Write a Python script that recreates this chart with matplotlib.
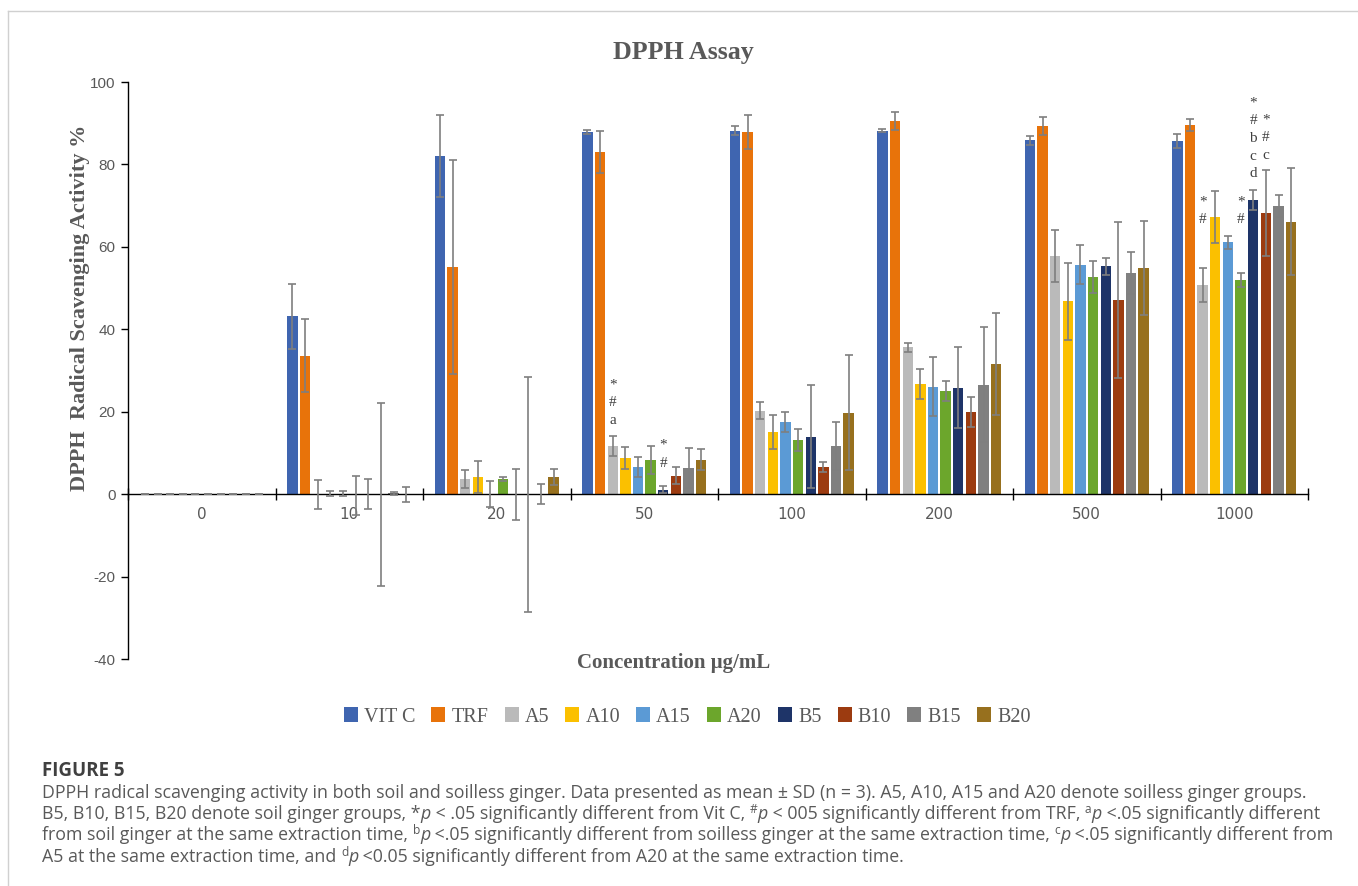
import numpy as np
import matplotlib
matplotlib.use("Agg")
import matplotlib.pyplot as plt
from matplotlib.patches import Patch
from matplotlib.lines import Line2D
from matplotlib.font_manager import FontProperties

plt.rcParams['axes.unicode_minus'] = False

# data (mean and SD per concentration)
concentrations = ['0', '10', '20', '50', '100', '200', '500', '1000']
series = ['VIT C', 'TRF', 'A5', 'A10', 'A15', 'A20', 'B5', 'B10', 'B15', 'B20']

vitc = [0, 43.2, 82.1, 87.9, 88.2, 88.2, 85.9, 85.7]
vitc_sd = [0, 7.9, 9.9, 0.45, 1.05, 0.4, 1.1, 1.6]
trf = [0, 33.6, 55.1, 83.0, 87.9, 90.5, 89.3, 89.6]
trf_sd = [0, 8.8, 26.0, 5.0, 4.1, 2.2, 2.1, 1.5]
a5 = [0, 0, 3.7, 11.7, 20.3, 35.6, 57.8, 50.7]
a5_sd = [0, 3.5, 2.1, 2.5, 2.1, 1.0, 6.3, 4.1]
a10 = [0, 0.1, 4.2, 8.8, 15.0, 26.8, 46.8, 67.2]
a10_sd = [0, 0.6, 3.8, 2.6, 4.1, 3.6, 9.3, 6.3]
a15 = [0, 0.1, 0, 6.6, 17.5, 26.1, 55.7, 61.1]
a15_sd = [0, 0.6, 3.2, 2.5, 2.4, 7.2, 4.7, 1.5]
a20 = [0, -0.3, 3.6, 8.4, 13.2, 25.0, 52.7, 52.0]
a20_sd = [0, 4.8, 0.5, 3.4, 2.7, 2.4, 3.9, 1.7]
b5 = [0, 0, -0.1, 1.1, 13.9, 25.8, 55.3, 71.4]
b5_sd = [0, 3.6, 6.1, 0.8, 12.5, 9.8, 2.1, 2.5]
b10 = [0, 0, 0, 4.5, 6.6, 19.9, 47.1, 68.3]
b10_sd = [0, 22.2, 28.5, 2.0, 1.2, 3.7, 18.9, 10.4]
b15 = [0, 0.2, 0, 6.3, 11.7, 26.6, 53.6, 69.9]
b15_sd = [0, 0.3, 2.5, 4.9, 5.9, 13.9, 5.1, 2.7]
b20 = [0, -0.1, 4.1, 8.4, 19.8, 31.6, 54.9, 66.1]
b20_sd = [0, 1.8, 1.9, 2.5, 13.9, 12.4, 11.5, 13.0]

means = [vitc, trf, a5, a10, a15, a20, b5, b10, b15, b20]
sds = [vitc_sd, trf_sd, a5_sd, a10_sd, a15_sd, a20_sd, b5_sd, b10_sd, b15_sd, b20_sd]

# significance marks: (concentration index, series index, top y, labels)
marks = [
    (3, 2, 26.5, ['*', '#', 'a']),
    (3, 6, 11.8, ['*', '#']),
    (7, 2, 70.9, ['*', '#']),
    (7, 5, 70.9, ['*', '#']),
    (7, 6, 94.9, ['*', '#', 'b', 'c', 'd']),
    (7, 7, 90.8, ['*', '#', 'c']),
]

colors = ['#3F65B0', '#E8730A', '#BABABA', '#FBC000', '#5B9AD5',
          '#6CA62C', '#1E3468', '#9C3B10', '#808080', '#97701E']
gray = '#595959'

W, H = 1358, 886
fig = plt.figure(figsize=(W / 100, H / 100), dpi=100)
ax = fig.add_axes([0.0943, 0.2562, 0.8689, 0.6512])

x = np.arange(len(concentrations)) + 0.5
slot = 0.0857
for k in range(len(series)):
    pos = x + (k - 4.5) * slot
    ax.bar(pos, means[k], width=slot * 0.82, color=colors[k], linewidth=0, zorder=2)
    ax.errorbar(pos, means[k], yerr=sds[k], fmt='none', ecolor='#7F7F7F',
                elinewidth=1.2, capsize=2.6, capthick=1.2, zorder=3)

for g, s, ytop, labels in marks:
    xp = x[g] + (s - 4.5) * slot
    for j, lab in enumerate(labels):
        ax.text(xp, ytop - j * 4.3, lab, ha='center', va='center',
                family='Liberation Serif', fontsize=11, color='#404040')

ax.set_xlim(0, 8)
ax.set_ylim(-40, 100)
ax.set_yticks(range(-40, 101, 20))
ax.set_xticks(x)
ax.set_xticklabels(concentrations)
ax.set_xticks(np.arange(0, 9), minor=True)
ax.tick_params(axis='x', which='major', length=0, pad=9, labelsize=11, labelcolor=gray)
ax.tick_params(axis='x', which='minor', direction='inout', length=8, width=1, color='black')
ax.tick_params(axis='y', length=5, width=1, color='black', labelsize=11, labelcolor=gray, pad=4)
for lab in ax.get_xticklabels() + ax.get_yticklabels():
    lab.set_family('Liberation Sans')

ax.spines['top'].set_visible(False)
ax.spines['right'].set_visible(False)
ax.spines['bottom'].set_position(('data', 0))
ax.spines['bottom'].set_zorder(2.5)
ax.spines['left'].set_linewidth(1)
ax.spines['bottom'].set_linewidth(1)

fig.text(683 / W, 1 - 52 / H, 'DPPH Assay', ha='center', va='center',
         family='Liberation Serif', fontweight='bold', fontsize=18.7, color=gray)
fig.text(80 / W, 1 - 308 / H, 'DPPH  Radical Scavenging Activity %', rotation=90,
         ha='center', va='center', family='Liberation Serif', fontweight='bold',
         fontsize=16, color=gray)
fig.text(674 / W, 1 - 663 / H, 'Concentration μg/mL', ha='center', va='center',
         family='Liberation Serif', fontweight='bold', fontsize=15, color=gray)

handles = [Patch(facecolor=c, edgecolor='none') for c in colors]
leg = fig.legend(handles, series, loc='center', bbox_to_anchor=(0.506, 1 - 717 / H),
                 ncol=10, frameon=False, handlelength=0.7, handleheight=0.7,
                 handletextpad=0.3, columnspacing=0.8,
                 prop={'family': 'Liberation Serif', 'size': 14.5})
for t in leg.get_texts():
    t.set_color(gray)

# page frame lines
fig.add_artist(Line2D([8 / W, 1], [1 - 11 / H, 1 - 11 / H], color='#D0D0D0', lw=1))
fig.add_artist(Line2D([8 / W, 8 / W], [0, 1 - 11 / H], color='#D0D0D0', lw=1))

# caption
cx = 42 / W
fig.text(cx, 1 - 771 / H, 'FIGURE 5', ha='left', va='center', family='Open Sans',
         fontweight='bold', fontsize=13.5, color='#404040')

cap_size = 12.75
styles = {
    'n': dict(family='Open Sans', fontsize=cap_size),
    'i': dict(family='Open Sans', fontsize=cap_size, style='italic'),
    's': dict(family='Open Sans', fontsize=cap_size * 0.68),
}
caption = [
    [('DPPH radical scavenging activity in both soil and soilless ginger. Data presented as mean ± SD (n = 3). '
      'A5, A10, A15 and A20 denote soilless ginger groups.', 'n')],
    [('B5, B10, B15, B20 denote soil ginger groups, *', 'n'), ('p', 'i'),
     (' < .05 significantly different from Vit C, ', 'n'), ('#', 's'), ('p', 'i'),
     (' < 005 significantly different from TRF, ', 'n'), ('a', 's'), ('p', 'i'),
     (' <.05 significantly different', 'n')],
    [('from soil ginger at the same extraction time, ', 'n'), ('b', 's'), ('p', 'i'),
     (' <.05 significantly different from soilless ginger at the same extraction time, ', 'n'),
     ('c', 's'), ('p', 'i'), (' <.05 significantly different from', 'n')],
    [('A5 at the same extraction time, and ', 'n'), ('d', 's'), ('p', 'i'),
     (' <0.05 significantly different from A20 at the same extraction time.', 'n')],
]

renderer = fig.canvas.get_renderer()


def advance(txt, st):
    fp = FontProperties(family=styles[st]['family'], size=styles[st]['fontsize'],
                        style=styles[st].get('style', 'normal'))
    w1 = renderer.get_text_width_height_descent('x' + txt + 'x', fp, ismath=False)[0]
    w0 = renderer.get_text_width_height_descent('xx', fp, ismath=False)[0]
    return w1 - w0


for i, runs in enumerate(caption):
    base = 798 + 21.2 * i
    xp = 42.0
    for txt, st in runs:
        rise = 6 if st == 's' else 0
        fig.text(xp / W, 1 - (base - rise) / H, txt, ha='left', va='baseline',
                 color=gray, **styles[st])
        xp += advance(txt, st)

fig.savefig('out.png', dpi=100)
